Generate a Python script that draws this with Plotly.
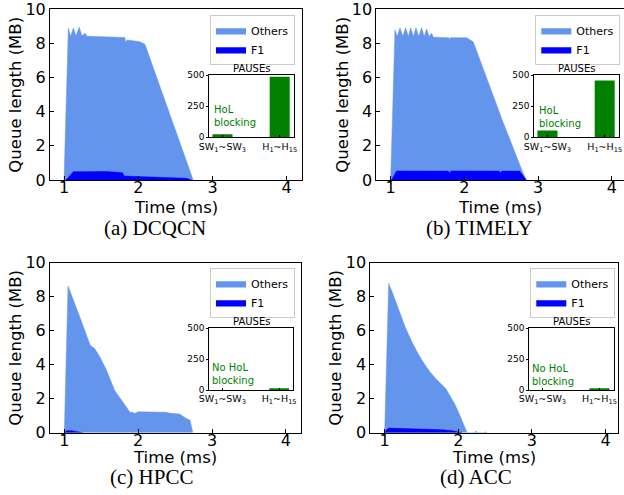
import plotly.graph_objects as go

W, H = 624, 495

# ---------------- data ----------------
# (a) DCQCN
t_others_a = [1.00, 1.058, 1.09, 1.125, 1.16, 1.206, 1.24, 1.283, 1.31, 1.50, 1.70, 1.82, 1.83, 1.85, 1.95, 2.02, 2.09, 2.74]
q_others_a = [0.00, 8.90, 8.40, 8.90, 8.45, 8.95, 8.45, 8.60, 8.42, 8.40, 8.38, 8.35, 8.05, 8.20, 8.15, 8.10, 7.95, 0.00]
t_f1_a = [1.027, 1.125, 1.575, 1.79, 1.81, 2.20, 2.65, 2.72]
q_f1_a = [0.00, 0.49, 0.50, 0.43, 0.23, 0.17, 0.10, 0.00]

# (b) TIMELY
t_others_b = [1.00, 1.058, 1.09, 1.126, 1.165, 1.203, 1.24, 1.271, 1.31, 1.343, 1.38, 1.42, 1.455, 1.488, 1.52, 1.556, 1.58,
              1.79, 1.80, 1.81, 2.03, 2.12, 2.49, 2.51, 2.78, 2.84]
q_others_b = [0.00, 8.79, 8.40, 8.92, 8.40, 8.92, 8.40, 8.92, 8.40, 8.92, 8.40, 8.92, 8.40, 8.85, 8.40, 8.60, 8.36,
              8.34, 8.20, 8.34, 8.34, 8.10, 3.80, 3.55, 0.59, 0.00]
t_f1_b = [1.01, 1.08, 1.50, 1.78, 1.80, 1.82, 2.47, 2.49, 2.51, 2.75, 2.84]
q_f1_b = [0.00, 0.53, 0.52, 0.52, 0.42, 0.53, 0.52, 0.42, 0.52, 0.52, 0.00]

# (c) HPCC
t_others_c = [1.00, 1.05, 1.21, 1.35, 1.41, 1.48, 1.57, 1.68, 1.72, 1.77, 1.83, 1.89, 1.93, 1.95, 2.00, 2.38, 2.43, 2.56, 2.65, 2.70, 2.74]
q_others_c = [0.00, 8.63, 6.80, 5.15, 4.96, 4.47, 3.69, 2.50, 2.25, 1.92, 1.55, 1.20, 1.20, 1.13, 1.23, 1.20, 1.14, 1.10, 0.84, 0.75, 0.00]
t_f1_c = [1.00, 1.03, 1.10, 1.20, 1.25]
q_f1_c = [0.00, 0.12, 0.12, 0.05, 0.00]

# (d) ACC
t_others_d = [1.00, 1.055, 1.10, 1.19, 1.28, 1.37, 1.46, 1.55, 1.62, 1.69, 1.75, 1.80, 1.83, 1.87, 1.95, 2.01, 2.06, 2.12,
              2.22, 2.24, 2.26, 2.35, 2.37, 2.39]
q_others_d = [0.00, 8.78, 8.30, 7.20, 6.20, 5.35, 4.60, 3.98, 3.55, 3.20, 2.95, 2.70, 2.60, 2.30, 1.70, 1.14, 0.60, 0.00,
              0.00, 0.10, 0.00, 0.00, 0.05, 0.00]
t_f1_d = [1.00, 1.03, 1.06, 1.30, 1.60, 1.80, 1.95, 2.05]
q_f1_d = [0.00, 0.20, 0.27, 0.25, 0.22, 0.17, 0.10, 0.00]

pause_categories = [0, 1]
pause_labels = ["SW<sub>1</sub>~SW<sub>3</sub>", "H<sub>1</sub>~H<sub>15</sub>"]
pause_a = [25, 485]
pause_b = [55, 455]
pause_c = [0, 8]
pause_d = [0, 8]

x_ticks = [1, 2, 3, 4]
y_ticks = [0, 2, 4, 6, 8, 10]
pause_ticks = [0, 250, 500]

captions = ["(a) DCQCN", "(b) TIMELY", "(c) HPCC", "(d) ACC"]
hol_texts = ["HoL<br>blocking", "HoL<br>blocking", "No HoL<br>blocking", "No HoL<br>blocking"]

# ---------------- layout geometry (pixels) ----------------
def px(x):
    return x / W

def py(y):
    return 1 - y / H

main_boxes = [  # left, top, right, bottom
    (50, 9.3, 302, 180),
    (376.3, 9.3, 624, 180),
    (50, 262.7, 300.7, 432.7),
    (370.3, 262.7, 618, 432.7),
]
main_xranges = [[0.811, 4.206], [0.805, 4.166], [0.806, 4.20], [0.805, 4.17]]
inset_boxes = [
    (209.3, 75, 294, 137.3),
    (534.3, 75, 619, 137.3),
    (209.3, 328.3, 293.3, 390),
    (529.3, 328.3, 613.7, 390),
]
legend_pos = [(295, 15), (620.3, 15), (295, 268), (615.3, 268)]
caption_pos = [(155, 228), (479.5, 228), (151, 477), (475.5, 477)]
hol_pos = [(-0.18, 171), (-0.18, 165), (-0.21, 130), (-0.21, 122)]

OTHERS = "#6495ED"
F1C = "#0000FF"
GREEN = "#008000"
FONT = "DejaVu Sans"

panels = [
    (t_others_a, q_others_a, t_f1_a, q_f1_a, pause_a),
    (t_others_b, q_others_b, t_f1_b, q_f1_b, pause_b),
    (t_others_c, q_others_c, t_f1_c, q_f1_c, pause_c),
    (t_others_d, q_others_d, t_f1_d, q_f1_d, pause_d),
]

fig = go.Figure()
layout = dict(
    template="none",
    width=W, height=H, margin=dict(l=0, r=0, t=0, b=0, autoexpand=False),
    paper_bgcolor="white", plot_bgcolor="rgba(0,0,0,0)",
    font=dict(family=FONT, color="black"),
    annotations=[],
)

for i, (to, qo, tf, qf, pz) in enumerate(panels):
    mx = "x" if i == 0 else f"x{i+1}"
    my = "y" if i == 0 else f"y{i+1}"
    ix = f"x{i+5}"
    iy = f"y{i+5}"
    leg = "legend" if i == 0 else f"legend{i+1}"

    fig.add_trace(go.Scatter(
        x=to, y=qo, mode="lines", fill="tozeroy", fillcolor=OTHERS,
        line=dict(color=OTHERS, width=0.5), name="Others",
        xaxis=mx, yaxis=my, legend=leg, legendrank=1, hoverinfo="skip"))
    fig.add_trace(go.Scatter(
        x=tf, y=qf, mode="lines", fill="tozeroy", fillcolor=F1C,
        line=dict(color=F1C, width=0.5), name="F1",
        xaxis=mx, yaxis=my, legend=leg, legendrank=2, hoverinfo="skip"))
    fig.add_trace(go.Bar(
        x=pause_categories, y=pz, width=0.35, marker=dict(color=GREEN, line=dict(width=0)),
        xaxis=ix, yaxis=iy, showlegend=False, hoverinfo="skip"))

    l, t, r, b = main_boxes[i]
    common = dict(ticks="inside", ticklen=4, tickwidth=1, tickcolor="black", showline=True,
                  mirror=True, linecolor="black", linewidth=1, showgrid=False,
                  zeroline=False, automargin=False, ticklabeloverflow="allow",
                  tickfont=dict(size=16, family=FONT))
    layout["xaxis" if i == 0 else f"xaxis{i+1}"] = dict(
        domain=[px(l), px(r)], range=main_xranges[i], tickvals=x_ticks, anchor=my,
        ticklabelstandoff=-7, **common)
    layout["yaxis" if i == 0 else f"yaxis{i+1}"] = dict(
        domain=[py(b), py(t)], range=[0, 10], tickvals=y_ticks, anchor=mx, **common)

    il, it, ir, ib = inset_boxes[i]
    layout[f"xaxis{i+5}"] = dict(domain=[px(il), px(ir)], range=[-0.23, 1.25],
                                 tickvals=pause_categories, ticktext=pause_labels,
                                 ticks="inside", ticklen=2, tickcolor="black",
                                 showline=True, mirror=True, linecolor="black", linewidth=1,
                                 showgrid=False, zeroline=False, anchor=iy, automargin=False,
                                 ticklabeloverflow="allow",
                                 tickfont=dict(size=9.5, family=FONT))
    layout[f"yaxis{i+5}"] = dict(domain=[py(ib), py(it)], range=[0, 500],
                                 tickvals=pause_ticks, ticks="outside", ticklen=2,
                                 tickcolor="black", showline=True, mirror=True,
                                 linecolor="black", linewidth=1, showgrid=False,
                                 zeroline=False, anchor=ix, automargin=False,
                                 ticklabeloverflow="allow",
                                 tickfont=dict(size=9, family=FONT))

    lx, ly = legend_pos[i]
    layout[leg] = dict(x=px(lx), y=py(ly), xanchor="right", yanchor="top",
                       bgcolor="white", bordercolor="#cccccc", borderwidth=1,
                       font=dict(size=11, family=FONT), itemwidth=30,
                       tracegroupgap=0)

    # axis titles
    cx = (l + r) / 2
    layout["annotations"].append(dict(
        text="Time (ms)", x=px(cx), y=py(207 if i < 2 else 457), xref="paper", yref="paper",
        showarrow=False, font=dict(size=16.5, family=FONT), xanchor="center", yanchor="middle"))
    ytx = [16, 343, 16, 336][i]
    layout["annotations"].append(dict(
        text="Queue length (MB)", x=px(ytx), y=py((t + b) / 2), xref="paper", yref="paper",
        showarrow=False, textangle=-90, font=dict(size=16.5, family=FONT),
        xanchor="center", yanchor="middle"))
    # inset title
    layout["annotations"].append(dict(
        text="PAUSEs", x=px((il + ir) / 2), y=py(it - 7), xref="paper", yref="paper",
        showarrow=False, font=dict(size=10, family=FONT), xanchor="center", yanchor="middle"))
    # HoL text
    hx, hy = hol_pos[i]
    layout["annotations"].append(dict(
        text=hol_texts[i], x=hx, y=hy, xref=ix, yref=iy, showarrow=False, align="left",
        font=dict(size=10, family=FONT, color=GREEN), xanchor="left", yanchor="middle"))
    # caption
    cxp, cyp = caption_pos[i]
    layout["annotations"].append(dict(
        text=captions[i], x=px(cxp), y=py(cyp), xref="paper", yref="paper", showarrow=False,
        font=dict(size=21, family="Liberation Serif"), xanchor="center", yanchor="middle"))

fig.update_layout(**layout)
fig.write_html("out.html",
               config={"displayModeBar": False},
               post_script="document.body.style.margin='0';document.body.style.overflow='hidden';")
